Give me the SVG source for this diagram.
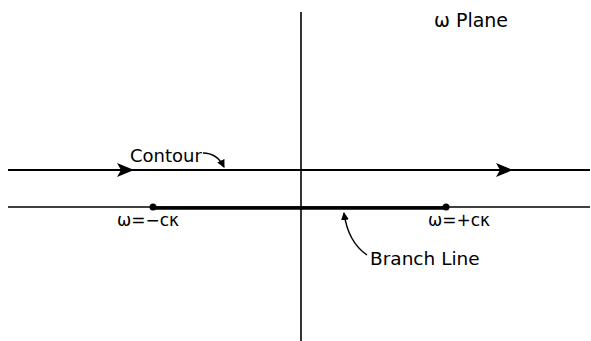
<svg xmlns="http://www.w3.org/2000/svg" width="591" height="341" viewBox="0 0 591 341">
<style>
.ln{stroke:#000;fill:none}
.t{font-family:"DejaVu Sans","Liberation Sans",sans-serif;fill:#000}
</style>
<defs>
<marker id="ah" markerWidth="8" markerHeight="8" refX="7" refY="4" orient="auto" markerUnits="userSpaceOnUse">
<path d="M0,0 L8,4 L0,8 Z" fill="#000"/>
</marker>
</defs>
<rect width="591" height="341" fill="#fff"/>
<g id="connectors">
<line class="ln" x1="301" y1="12" x2="301" y2="341" stroke-width="1.6"/>
<line class="ln" x1="8" y1="170" x2="590" y2="170" stroke-width="2"/>
<line class="ln" x1="8" y1="207" x2="590" y2="207" stroke-width="1.5"/>
<line class="ln" x1="153" y1="208" x2="446" y2="208" stroke-width="3.5"/>
<path d="M117,163 L134,170 L117,177 L121,170 Z" fill="#000"/>
<path d="M496,163 L513,170 L496,177 L500,170 Z" fill="#000"/>
<path class="ln" d="M203,153 Q217,153 224,167" stroke-width="1.5" marker-end="url(#ah)"/>
<path class="ln" d="M367,255 Q348,242 344,213" stroke-width="1.5" marker-end="url(#ah)"/>
</g>
<g id="dot-minus"><circle cx="153" cy="207" r="3.5" fill="#000"/></g>
<g id="dot-plus"><circle cx="446" cy="207" r="3.5" fill="#000"/></g>
<g id="label-plane"><text class="t" x="434" y="27" font-size="19">ω Plane</text></g>
<g id="label-contour"><text class="t" x="130" y="162" font-size="18">Contour</text></g>
<g id="label-minus"><text class="t" x="117" y="226" font-size="17">ω=−cκ</text></g>
<g id="label-plus"><text class="t" x="428" y="226" font-size="17">ω=+cκ</text></g>
<g id="label-branch"><text class="t" x="370" y="265" font-size="18.5">Branch Line</text></g>
</svg>
